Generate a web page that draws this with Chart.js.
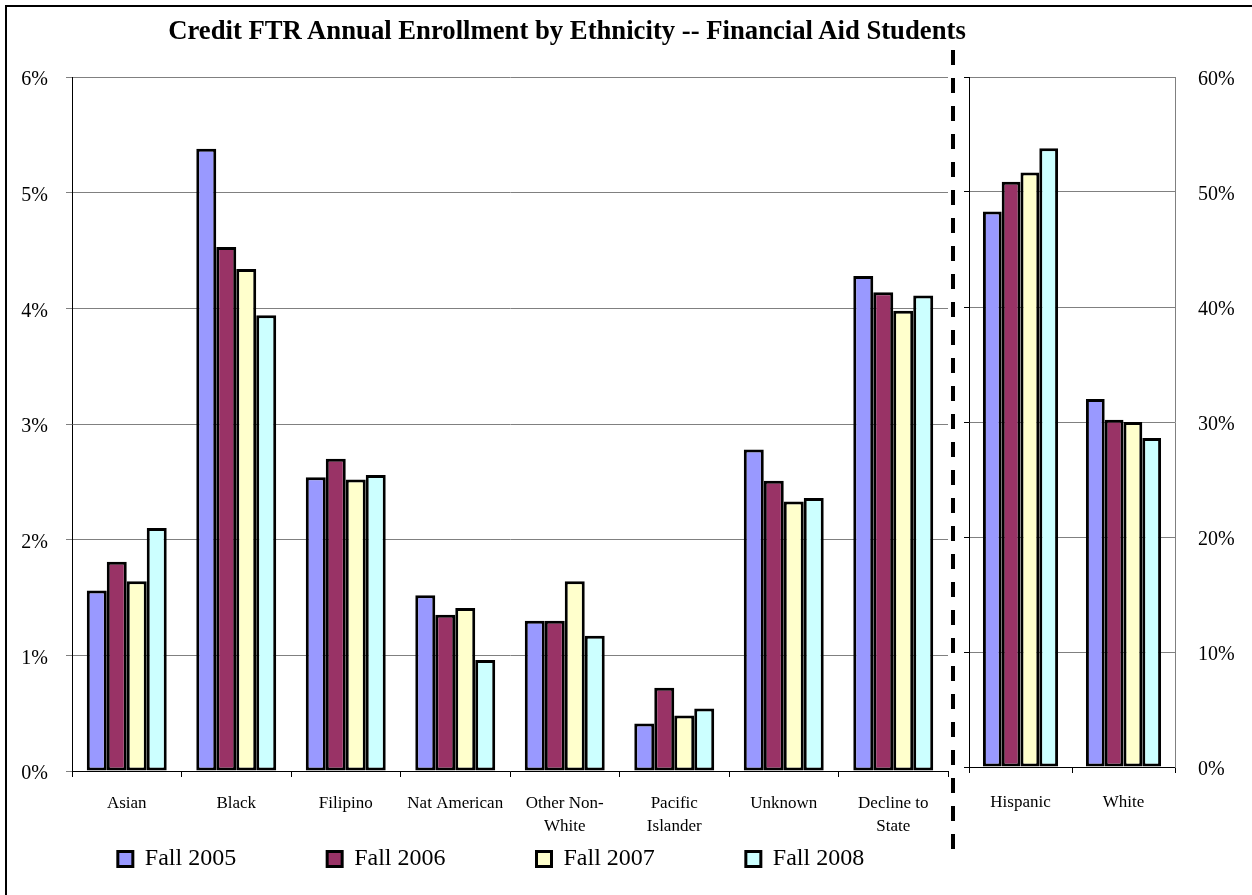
<!DOCTYPE html>
<html>
<head>
<meta charset="utf-8">
<script src="https://cdn.jsdelivr.net/npm/chart.js@4.4.1/dist/chart.umd.min.js"></script>
<style>
html,body{margin:0;padding:0;background:#fff;overflow:hidden;width:1252px;height:895px}
#frame{position:absolute;left:5px;top:5px;width:1300px;height:1000px;border:2px solid #000;box-sizing:border-box}
#title{position:absolute;left:0;width:1134px;top:15px;text-align:center;font:bold 26.7px 'Liberation Serif',serif;color:#000}
#sep{position:absolute;left:949px;top:50px}
#cl{position:absolute;left:0;top:0}
#cr{position:absolute;left:950px;top:0}
</style>
</head>
<body>
<div id="frame"></div>
<canvas id="cl" width="950" height="1000"></canvas>
<canvas id="cr" width="302" height="895"></canvas>
<svg id="sep" width="8" height="800"><line x1="4" y1="0" x2="4" y2="800" stroke="#000" stroke-width="4" stroke-dasharray="15 13"/></svg>
<div id="title">Credit FTR Annual Enrollment by Ethnicity -- Financial Aid Students</div>
<script>
/* categories and series */
const CATS_SMALL=['Asian','Black','Filipino','Nat American',['Other Non-','White'],['Pacific','Islander'],'Unknown',['Decline to','State']];
const CATS_BIG=['Hispanic','White'];
const YEARS=['Fall 2005','Fall 2006','Fall 2007','Fall 2008'];
const COLORS=['#9999ff','#993366','#ffffcc','#ccffff'];

// percent of students, small groups (left axis 0-6%)
const S2005=[1.56,5.38,2.54,1.52,1.30,0.41,2.78,4.28];
const S2006=[1.81,4.53,2.70,1.35,1.30,0.72,2.51,4.14];
const S2007=[1.64,4.34,2.52,1.41,1.64,0.48,2.33,3.98];
const S2008=[2.10,3.94,2.56,0.96,1.17,0.54,2.36,4.11];
// big groups (right axis 0-60%)
const B2005=[48.3,32.0];
const B2006=[50.9,30.2];
const B2007=[51.7,30.0];
const B2008=[53.8,28.6];
const TICKS_SMALL={min:0,max:6,step:1};
const TICKS_BIG={min:0,max:60,step:10};

Chart.defaults.color='#000';
Chart.defaults.font.family="'Liberation Serif','Times New Roman',serif";
const GRID='#808080';

function mkSets(series){
  return series.map((d,i)=>({label:YEARS[i],data:d,backgroundColor:COLORS[i],borderColor:'#000',
    borderWidth:3,borderSkipped:false,barPercentage:1,categoryPercentage:0.73}));
}

// legend sits just under the category labels, a bit right of centre
const legendDrop={id:'legendDrop',afterLayout(c){
  const l=c.legend; if(!l)return;
  const h=l.bottom-l.top; l.top=756; l.bottom=756+h;
  l.left+=17; l.right+=17;
}};

new Chart(document.getElementById('cl'),{
  type:'bar',
  data:{labels:CATS_SMALL,datasets:mkSets([S2005,S2006,S2007,S2008])},
  plugins:[legendDrop],
  options:{
    responsive:false,animation:false,
    layout:{padding:{top:77,left:0,right:2,bottom:0}},
    plugins:{
      legend:{position:'bottom',labels:{font:{size:24},boxWidth:15,boxHeight:15,padding:91,color:'#000'}},
      tooltip:{enabled:false}
    },
    scales:{
      x:{grid:{offset:true,drawOnChartArea:false,tickLength:6,color:'#000'},border:{color:'#000'},
         ticks:{font:{size:17,lineHeight:1.35},padding:15,maxRotation:0,autoSkip:false},
         afterFit:s=>{s.height=104;}},
      y:{min:TICKS_SMALL.min,max:TICKS_SMALL.max,grid:{color:GRID,tickLength:6},border:{color:'#000'},
         ticks:{stepSize:TICKS_SMALL.step,font:{size:20},padding:18,labelOffset:3,callback:v=>v+'%'},
         afterFit:s=>{s.width=72;}}
    }
  }
});

new Chart(document.getElementById('cr'),{
  type:'bar',
  data:{labels:CATS_BIG,datasets:mkSets([B2005,B2006,B2007,B2008])},
  options:{
    responsive:false,animation:false,
    layout:{padding:{top:77,left:0,right:0,bottom:0}},
    plugins:{legend:{display:false},tooltip:{enabled:false}},
    scales:{
      x:{grid:{offset:true,drawOnChartArea:false,tickLength:6,color:'#000'},border:{color:'#000'},
         ticks:{font:{size:17,lineHeight:1.35},padding:18,maxRotation:0,autoSkip:false},
         afterFit:s=>{s.height=128;}},
      yL:{position:'left',min:TICKS_BIG.min,max:TICKS_BIG.max,
          grid:{drawOnChartArea:false,tickLength:5,color:'#000'},border:{color:'#000'},
          ticks:{stepSize:TICKS_BIG.step,display:false},
          afterFit:s=>{s.width=19;}},
      y:{position:'right',min:TICKS_BIG.min,max:TICKS_BIG.max,
         grid:{color:GRID,drawTicks:false},border:{color:GRID},
         ticks:{stepSize:TICKS_BIG.step,font:{size:20},padding:23,labelOffset:3,callback:v=>v+'%'},
         afterFit:s=>{s.width=77;}}
    }
  }
});
</script>
</body>
</html>
